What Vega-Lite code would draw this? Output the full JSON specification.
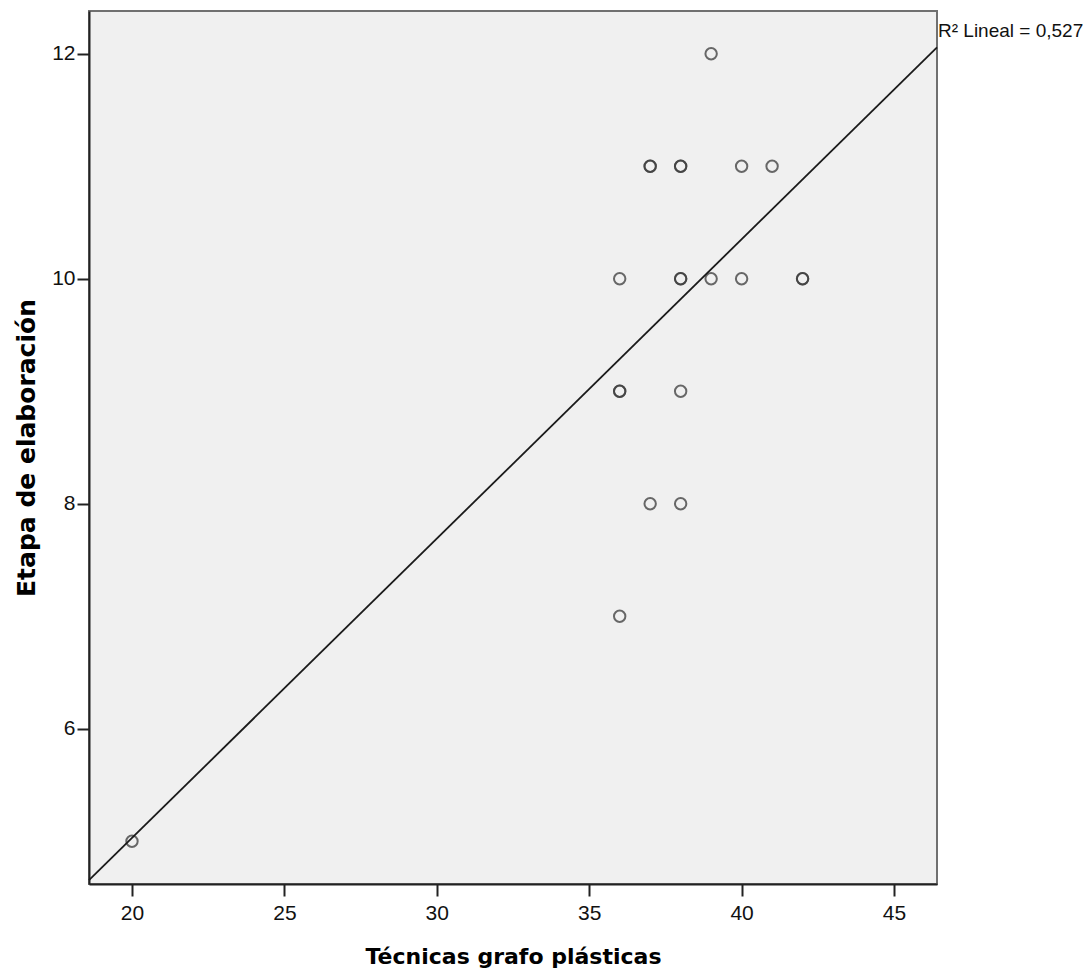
{
  "$schema": "https://vega.github.io/schema/vega-lite/v6.json",
  "width": 848,
  "height": 873,
  "autosize": {"type": "none"},
  "padding": {"left": 89, "top": 11, "right": 152, "bottom": 95},
  "background": "white",
  "config": {
    "view": {"fill": "#f0f0f0", "stroke": "#707070", "strokeWidth": 2},
    "font": "Liberation Sans, sans-serif",
    "axis": {
      "grid": false,
      "domainColor": "#222222",
      "domainWidth": 2,
      "tickColor": "#222222",
      "tickWidth": 2,
      "tickSize": 12,
      "labelFont": "Liberation Sans, sans-serif",
      "labelFontSize": 21,
      "labelColor": "#111111",
      "titleFont": "DejaVu Sans, sans-serif",
      "titleFontWeight": "bold",
      "titleColor": "#000000"
    }
  },
  "data": {
    "values": [
      {"x": 20, "y": 5},
      {"x": 36, "y": 10},
      {"x": 37, "y": 11},
      {"x": 37, "y": 11},
      {"x": 38, "y": 11},
      {"x": 38, "y": 11},
      {"x": 40, "y": 11},
      {"x": 41, "y": 11},
      {"x": 39, "y": 12},
      {"x": 38, "y": 10},
      {"x": 38, "y": 10},
      {"x": 39, "y": 10},
      {"x": 40, "y": 10},
      {"x": 42, "y": 10},
      {"x": 42, "y": 10},
      {"x": 36, "y": 9},
      {"x": 36, "y": 9},
      {"x": 38, "y": 9},
      {"x": 37, "y": 8},
      {"x": 38, "y": 8},
      {"x": 36, "y": 7}
    ]
  },
  "layer": [
    {
      "mark": {"type": "point", "shape": "circle", "filled": false, "size": 130, "strokeWidth": 2, "color": "#3a3a3a", "opacity": 0.75},
      "encoding": {
        "x": {
          "field": "x", "type": "quantitative",
          "scale": {"domain": [18.59, 46.41], "nice": false, "zero": false},
          "axis": {"values": [20, 25, 30, 35, 40, 45], "format": "d", "title": "Técnicas grafo plásticas", "titleFontSize": 22, "labelPadding": 6, "titlePadding": 23}
        },
        "y": {
          "field": "y", "type": "quantitative",
          "scale": {"domain": [4.62, 12.38], "nice": false, "zero": false},
          "axis": {"values": [6, 8, 10, 12], "format": "d", "title": "Etapa de elaboración", "titleFontSize": 25, "labelPadding": 2, "titlePadding": 12}
        }
      }
    },
    {
      "transform": [{"regression": "y", "on": "x", "extent": [18.59, 46.41]}],
      "mark": {"type": "line", "color": "#1a1a1a", "strokeWidth": 1.8},
      "encoding": {
        "x": {"field": "x", "type": "quantitative"},
        "y": {"field": "y", "type": "quantitative"}
      }
    },
    {
      "data": {"values": [{"label": "R² Lineal = 0,527"}]},
      "mark": {"type": "text", "align": "left", "baseline": "alphabetic", "dx": 1, "dy": 26, "fontSize": 19, "color": "#111111", "font": "Liberation Sans, sans-serif"},
      "encoding": {
        "x": {"datum": 46.41, "type": "quantitative"},
        "y": {"datum": 12.38, "type": "quantitative"},
        "text": {"field": "label"}
      }
    }
  ]
}
